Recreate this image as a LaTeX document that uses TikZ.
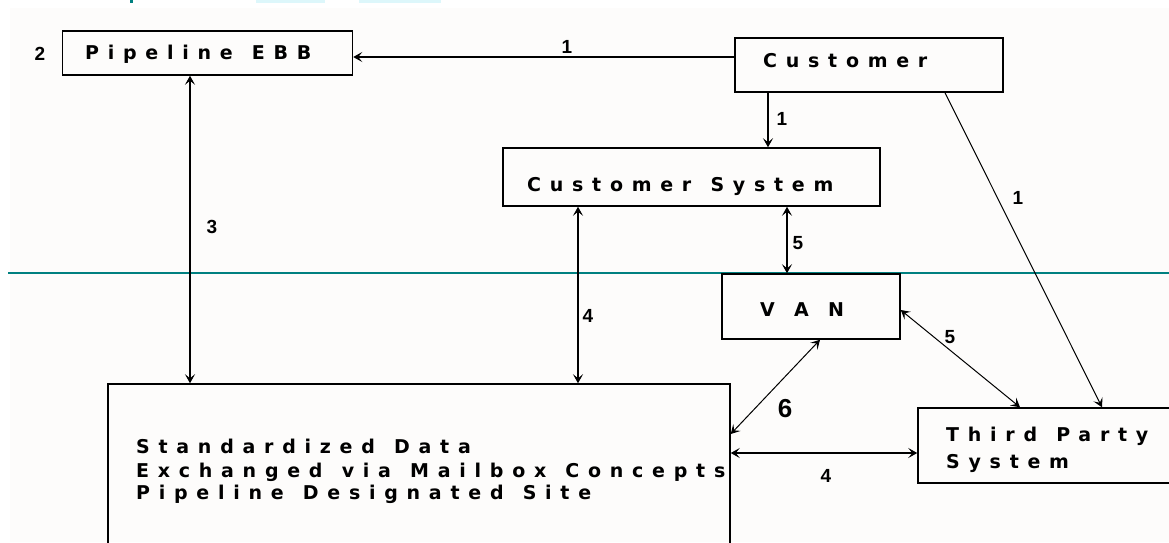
\documentclass[tikz,border=0pt]{standalone}
\usepackage{fontspec}
\setmainfont{Liberation Sans}
\newfontfamily\widefont[LetterSpace=46,WordSpace=1.25]{DejaVu Sans}
\usetikzlibrary{arrows.meta}

\definecolor{paper}{HTML}{FDFCFB}
\definecolor{rulecol}{HTML}{008080}
\definecolor{glare}{HTML}{DDF7FB}

\begin{document}
\begin{tikzpicture}[x=1pt,y=-1pt,
  box/.style={draw, line width=1.5pt, inner sep=0pt},
  word/.style={font=\widefont\bfseries\fontsize{19}{22}\selectfont, inner sep=0pt, anchor=west},
  num/.style={font=\bfseries\fontsize{19}{22}\selectfont, inner sep=0pt},
  link/.style={line width=1.4pt},
  thinlink/.style={line width=1pt},
  >={Stealth[length=9pt,width=10pt,inset=4pt]}]

  % Page and screenshot leftovers
  \useasboundingbox (0,0) rectangle (1169,542);
  \clip (0,0) rectangle (1169,542);
  \fill[white] (0,0) rectangle (1169,542);
  \fill[paper] (10,8) rectangle (1169,542);
  \fill[rulecol] (130,0) rectangle (133,3);
  \fill[glare] (256,0) rectangle (325,3);
  \fill[glare] (359,0) rectangle (441,3);
  \draw[rulecol, line width=2pt] (8,273) -- (1169,273);

  % Boxes
  \node[box, minimum width=290, minimum height=44] (ebb) at (207.5,53) {};
  \node[box, minimum width=268, minimum height=54] (cust) at (869,65) {};
  \node[box, minimum width=377, minimum height=58] (csys) at (691.5,177) {};
  \node[box, minimum width=178, minimum height=65] (van) at (811,306.5) {};
  \node[box, minimum width=622, minimum height=220] (std) at (419,494) {};
  \node[box, minimum width=272, minimum height=75] (third) at (1054,445.5) {};

  % Box texts
  \node[word] (ebbtext) at (85,54) {Pipeline EBB};
  \node[word] (custtext) at (763,61) {Customer};
  \node[word] (csystext) at (527,186) {Customer System};
  \node[word] (vantext) at (760,310) {V A N};
  \node[word] (thirdtop) at (946,436) {Third Party};
  \node[word] (thirdbot) at (946,463) {System};
  \node[word] (stdone) at (136,446) {Standardized Data};
  \node[word] (stdtwo) at (136,472) {Exchanged via Mailbox Concepts};
  \node[word] (stdthree) at (136,494) {Pipeline Designated Site};

  % Connectors
  \draw[->, link] (cust.west |- 0,57) -- (ebb.east |- 0,57);
  \draw[->, link] (cust.south -| 768,0) -- (csys.north -| 768,0);
  \draw[->, thinlink] (cust.south -| 945,0) -- (third.north -| 1102,0);
  \draw[<->, link] (ebb.south -| 190,0) -- (std.north -| 190,0);
  \draw[<->, link] (csys.south -| 578,0) -- (std.north -| 578,0);
  \draw[<->, link] (csys.south -| 787,0) -- (van.north -| 787,0);
  \draw[<->, thinlink] (van.east |- 0,310) -- (third.north -| 1020,0);
  \draw[<->, thinlink] (van.south -| 820,0) -- (std.east |- 0,434);
  \draw[<->, link] (std.east |- 0,453) -- (third.west |- 0,453);

  % Step numbers
  \node[num] (ntwo) at (40,54) {2};
  \node[num] (ntop) at (567,47) {1};
  \node[num] (ndown) at (782,119) {1};
  \node[num] (ndiag) at (1018,198) {1};
  \node[num] (nthree) at (212,227) {3};
  \node[num] (nfour) at (588,316) {4};
  \node[num] (nfive) at (798,243) {5};
  \node[num] (nfivevan) at (950,337) {5};
  \node[num, font=\bfseries\fontsize{26}{30}\selectfont] (nsix) at (785,409) {6};
  \node[num] (nfourlow) at (826,476) {4};

\end{tikzpicture}
\end{document}
